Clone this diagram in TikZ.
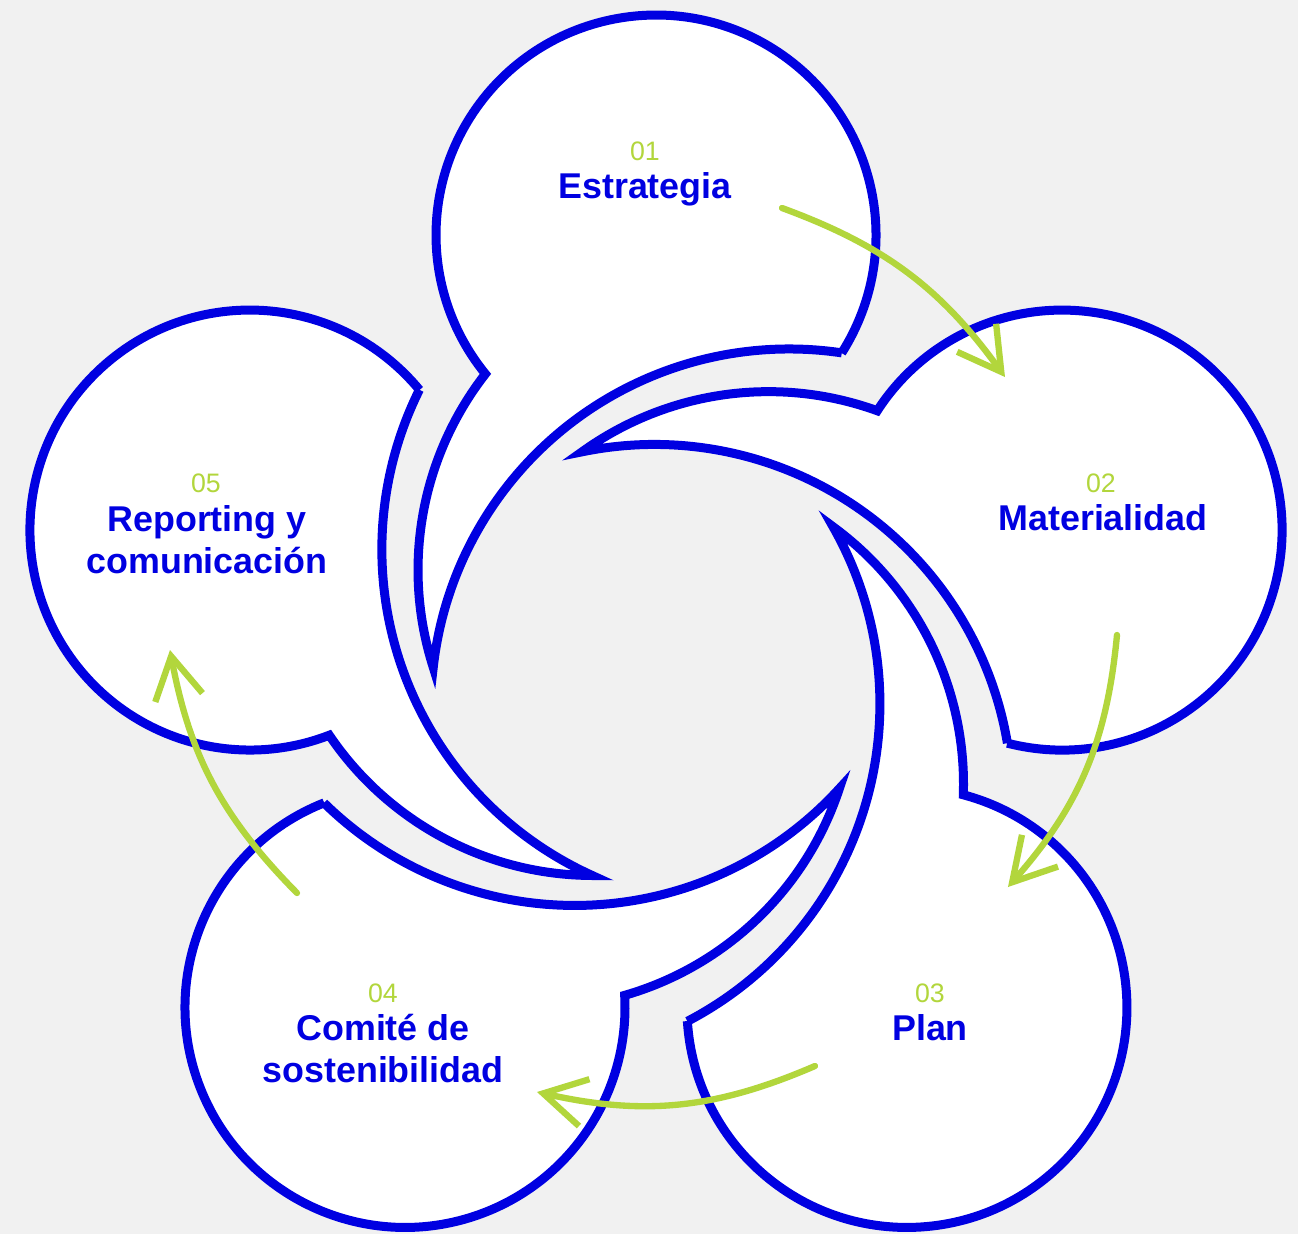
\documentclass[tikz,border=0pt]{standalone}
\usepackage{fontspec}
\setmainfont{Liberation Sans}
\usetikzlibrary{arrows.meta}
\definecolor{azul}{RGB}{0,0,225}
\definecolor{lima}{RGB}{178,214,60}
\definecolor{fondo}{RGB}{241,241,241}

\begin{document}
\begin{tikzpicture}[line width=0.09cm,
	petalo/.style={draw=azul, fill=white},
	flecha/.style={draw=lima, line width=1.8pt, line cap=round, -{Straight Barb[length=4.2mm,width=4.8mm]}},
	num/.style={anchor=base, text=lima, font=\fontsize{7.6}{8}\selectfont},
	etiq/.style={anchor=base, text=azul, align=center, font=\bfseries\fontsize{10.2}{11.9}\selectfont}]
	\useasboundingbox (-6.56,-5.72) rectangle (6.42,6.62);
	\fill[fondo] (-6.56,-5.72) rectangle (6.42,6.62);
	% cinco globos, girados 72 grados
	\foreach \k in {0,...,4}{
		\begin{scope}[rotate=-72*\k]
		\draw[petalo] (1.857,3.090) arc[start angle=-32.43, end angle=219.15, radius=2.2]
			arc[start angle=142.07, end angle=197.77, radius=3.19]
			arc[start angle=173.65, end angle=81.53, radius=3.58] -- cycle;
		\end{scope}}
	\node[num] (n1) at (-0.11,5.02) {01};
	\node[etiq] (e1) at (-0.11,4.64) {Estrategia};
	\node[num] (n2) at (4.45,1.70) {02};
	\node[etiq] (e2) at (4.47,1.32) {Materialidad};
	\node[num] (n3) at (2.74,-3.40) {03};
	\node[etiq] (e3) at (2.74,-3.78) {Plan};
	\node[num] (n4) at (-2.73,-3.40) {04};
	\node[etiq] (e4) at (-2.73,-4.20) {Comité de\\sostenibilidad};
	\node[num] (n5) at (-4.50,1.70) {05};
	\node[etiq] (e5) at (-4.49,0.89) {Reporting y\\comunicación};
	% flechas
	\coordinate (a1) at (1.26,4.54);
	\coordinate (b1) at (3.49,2.85);
	\coordinate (a2) at (4.61,0.27);
	\coordinate (b2) at (3.52,-2.25);
	\coordinate (a3) at (1.59,-4.04);
	\coordinate (b3) at (-1.19,-4.30);
	\coordinate (a4) at (-3.59,-2.31);
	\coordinate (b4) at (-4.86,0.12);
	\draw[flecha] (a1) to[bend left=17] (b1);
	\draw[flecha] (a2) to[bend left=18] (b2);
	\draw[flecha] (a3) to[bend left=18] (b3);
	\draw[flecha] (a4) to[bend left=17] (b4);
\end{tikzpicture}
\end{document}
